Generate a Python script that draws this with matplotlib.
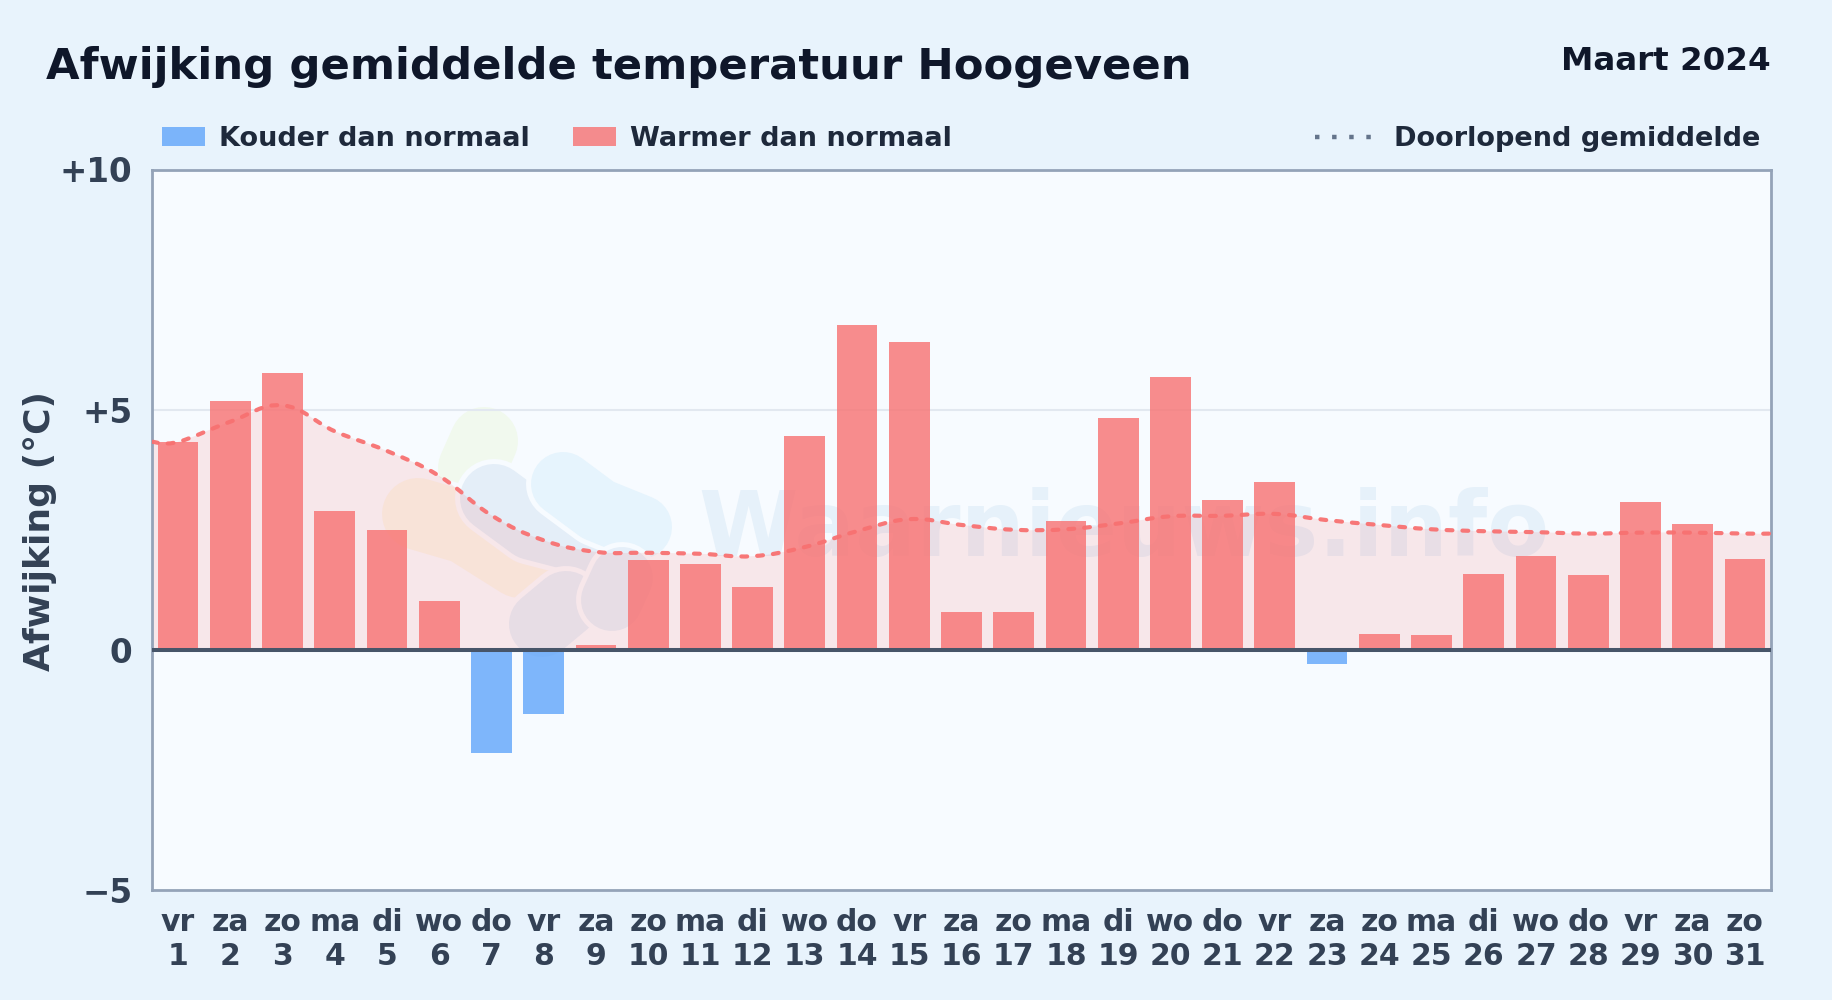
import numpy as np
import matplotlib
matplotlib.use('Agg')
import matplotlib.pyplot as plt
from matplotlib.lines import Line2D
from matplotlib.patches import Patch, PathPatch
from matplotlib.path import Path

plt.rcParams['font.family'] = ['DejaVu Sans']

days = list(range(1, 32))
weekdays = ['vr', 'za', 'zo', 'ma', 'di', 'wo', 'do', 'vr', 'za', 'zo', 'ma', 'di', 'wo', 'do', 'vr', 'za',
            'zo', 'ma', 'di', 'wo', 'do', 'vr', 'za', 'zo', 'ma', 'di', 'wo', 'do', 'vr', 'za', 'zo']
deviation = [4.33, 5.18, 5.77, 2.90, 2.50, 1.02, -2.14, -1.34, 0.10, 1.87, 1.78, 1.31, 4.45, 6.76, 6.40, 0.78,
             0.78, 2.68, 4.82, 5.67, 3.11, 3.50, -0.29, 0.34, 0.30, 1.58, 1.95, 1.56, 3.07, 2.63, 1.90]
running_mean = [4.33, 4.75, 5.09, 4.55, 4.14, 3.62, 2.80, 2.28, 2.04, 2.02, 2.00, 1.95, 2.14, 2.47, 2.72, 2.60,
                2.50, 2.51, 2.63, 2.78, 2.79, 2.83, 2.70, 2.60, 2.51, 2.47, 2.45, 2.42, 2.44, 2.44, 2.42]
y_ticks = [-5, 0, 5, 10]
y_labels = ['\u22125', '0', '+5', '+10']

RED = '#f87171'
BLUE = '#60a5fa'
PLOT_BG = '#f7fbff'
W, H = 1832, 1000


# pixel position in the picture to figure fraction
def fx(px):
    return px / W


def fy(py):
    return 1 - py / H


# smooth curve through the points, same idea as a spline with tension
def smooth_path(xs, ys, tension=0.4):
    pts = np.column_stack([xs, ys])
    verts = [pts[0]]
    codes = [Path.MOVETO]
    for i in range(len(pts) - 1):
        before = pts[max(i - 1, 0)]
        after = pts[min(i + 2, len(pts) - 1)]
        verts.append(pts[i] + (pts[i + 1] - before) * tension / 2)
        verts.append(pts[i + 1] - (after - pts[i]) * tension / 2)
        verts.append(pts[i + 1])
        codes += [Path.CURVE4] * 3
    return np.array(verts), codes


fig = plt.figure(figsize=(W / 100, H / 100), dpi=100, facecolor='#e8f3fc')
ax = fig.add_axes([fx(152), fy(890), (1771 - 152) / W, (890 - 169.5) / H], facecolor=PLOT_BG)

# watermark logo, thick round lines with a halo in the plot colour
blobs = [
    ([484, 472], [441, 468], '#f1f9ee', 68),
    ([418, 466, 520], [514, 528, 562], '#f9f6ea', 72),
    ([494, 532, 586], [498, 526, 540], '#e4eef8', 68),
    ([563, 598, 640], [484, 510, 527], '#e6f4fd', 64),
    ([542, 566], [624, 604], '#e5eff9', 66),
    ([612, 622], [600, 578], '#e5eff9', 62),
]
for bx, by, col, width in blobs:
    px_x = [fx(v) for v in bx]
    px_y = [fy(v) for v in by]
    ax.plot(px_x, px_y, color=PLOT_BG, lw=(width + 10) * 0.72, solid_capstyle='round',
            solid_joinstyle='round', transform=fig.transFigure, zorder=0.5)
    ax.plot(px_x, px_y, color=col, lw=width * 0.72, solid_capstyle='round',
            solid_joinstyle='round', transform=fig.transFigure, zorder=0.5)
ax.text(fx(1124), fy(531), 'Waarnieuws.info', transform=fig.transFigure, ha='center', va='center',
        fontsize=65, fontweight='bold', color='#e6f1fa', zorder=0.6)

ax.axhline(5, color='#e2e8f0', lw=1.5, zorder=1)

# running mean, flat towards both edges of the plot
line_x = [0.5] + days + [31.5]
line_y = [running_mean[0]] + running_mean + [running_mean[-1]]
verts, codes = smooth_path(line_x, line_y)
fill_verts = np.vstack([verts, [[31.5, 0], [0.5, 0], verts[0]]])
fill_codes = codes + [Path.LINETO, Path.LINETO, Path.CLOSEPOLY]
ax.add_patch(PathPatch(Path(fill_verts, fill_codes), facecolor=RED, alpha=0.14, edgecolor='none', zorder=2))

colors = [BLUE if v < 0 else RED for v in deviation]
ax.bar(days, deviation, width=0.78, color=colors, alpha=0.8, zorder=3)

ax.add_patch(PathPatch(Path(verts, codes), facecolor='none', edgecolor=RED, lw=3,
                       linestyle=(0, (1.4, 2.4)), capstyle='round', alpha=0.95, zorder=4))
ax.axhline(0, color='#475569', lw=2.9, zorder=5)

ax.set_xlim(0.5, 31.5)
ax.set_ylim(-5, 10)
ax.set_xticks(days)
ax.set_xticklabels([f'{w}\n{d}' for w, d in zip(weekdays, days)], fontsize=21.5, fontweight='bold',
                   color='#334155', linespacing=1.2)
ax.set_yticks(y_ticks)
ax.set_yticklabels(y_labels, fontsize=23.5, fontweight='bold', color='#334155')
ax.tick_params(axis='x', length=0, pad=13)
ax.tick_params(axis='y', length=0, pad=14)
for spine in ax.spines.values():
    spine.set_color('#94a3b8')
    spine.set_linewidth(2)

fig.text(fx(40), fy(531), 'Afwijking (°C)', rotation=90, ha='center', va='center', fontsize=26,
         fontweight='bold', color='#334155')
fig.text(fx(46), fy(67), 'Afwijking gemiddelde temperatuur Hoogeveen', ha='left', va='center', fontsize=31.2,
         fontweight='bold', color='#0f172a')
fig.text(fx(1771), fy(61), 'Maart 2024', ha='right', va='center', fontsize=23.4, fontweight='bold', color='#0f172a')

left_items = [Patch(facecolor=BLUE, alpha=0.8, label='Kouder dan normaal'),
              Patch(facecolor=RED, alpha=0.8, label='Warmer dan normaal')]
fig.legend(handles=left_items, loc='center left', bbox_to_anchor=(fx(162), fy(139)), ncol=2, frameon=False,
           prop={'size': 19.5, 'weight': 'bold'}, labelcolor='#1e293b', handlelength=1.6, handleheight=0.72,
           handletextpad=0.5, columnspacing=1.6, borderpad=0, borderaxespad=0)
right_item = [Line2D([], [], color='#64748b', lw=3.2, linestyle=(0, (1, 2.85)), label='Doorlopend gemiddelde')]
fig.legend(handles=right_item, loc='center right', bbox_to_anchor=(fx(1760), fy(139)), frameon=False,
           prop={'size': 19.5, 'weight': 'bold'}, labelcolor='#1e293b', handlelength=2.1,
           handletextpad=0.8, borderpad=0, borderaxespad=0)

fig.savefig('out.png', dpi=100, facecolor=fig.get_facecolor())
